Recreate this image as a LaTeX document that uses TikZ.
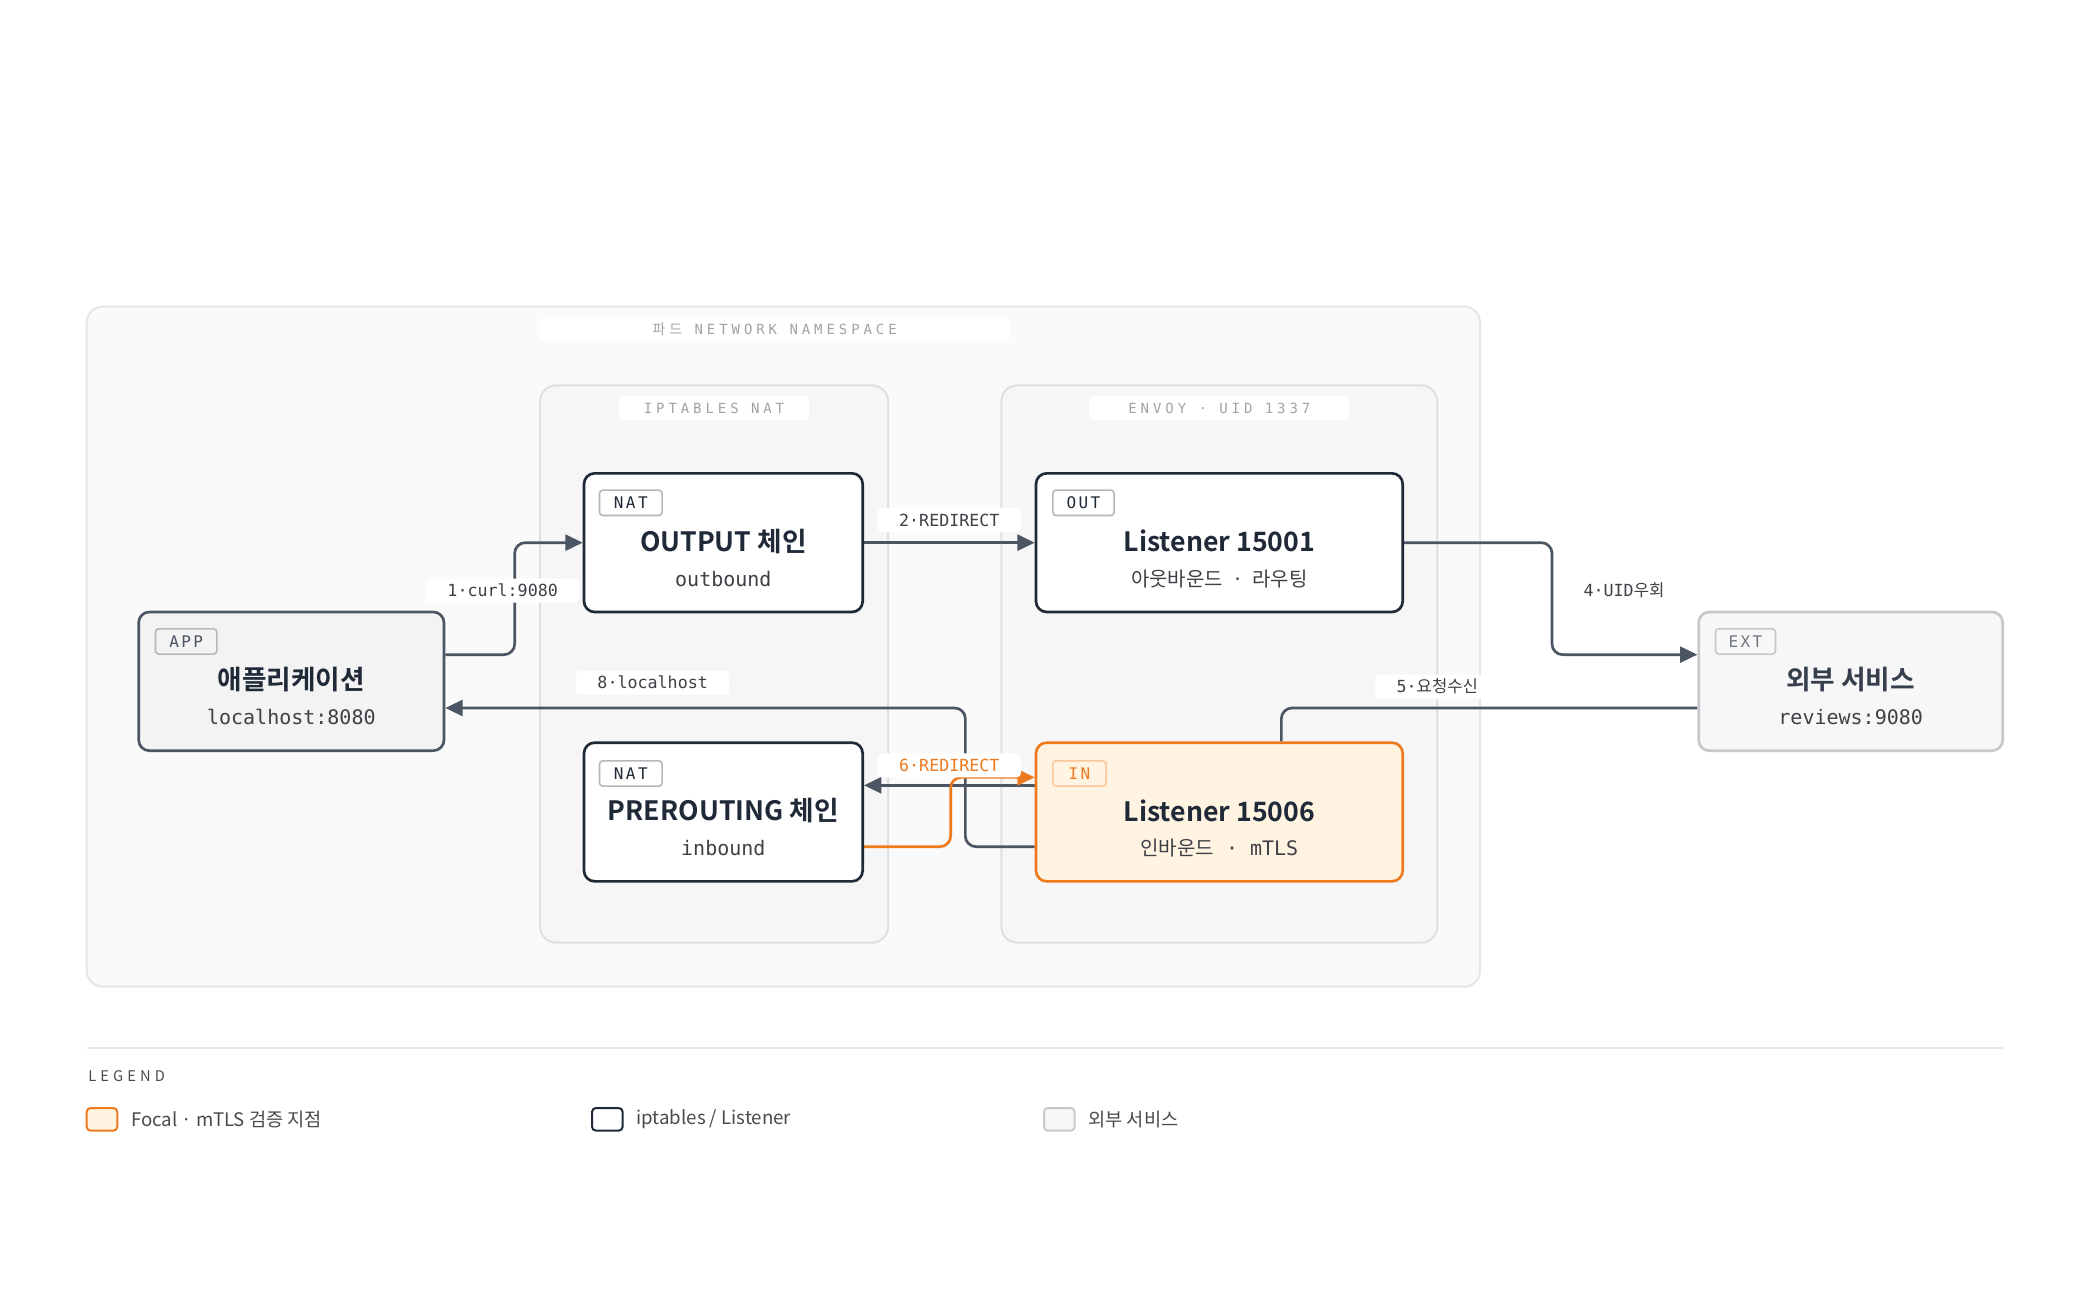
\documentclass[tikz,border=0pt]{standalone}
\usepackage{fontspec}
\setmainfont{Noto Sans CJK KR}[BoldFont={Noto Sans CJK KR Bold}]
\setmonofont{DejaVu Sans Mono}
\newfontfamily\kr{Noto Sans CJK KR}[BoldFont={Noto Sans CJK KR Bold}]
\newfontfamily\spmono{DejaVu Sans Mono}[LetterSpace=28]
\newfontfamily\tgmono{DejaVu Sans Mono}[LetterSpace=15]
\newfontfamily\spkr{Noto Sans CJK KR}[LetterSpace=28]
\usetikzlibrary{arrows.meta,calc}
\definecolor{ink}{HTML}{1F2937}
\definecolor{edgec}{HTML}{4B5563}
\definecolor{orng}{HTML}{EE7A1E}
\definecolor{orngtag}{HTML}{F8C79A}
\definecolor{cream}{HTML}{FFF4E2}
\definecolor{nsbg}{HTML}{FAFAFA}
\definecolor{nsline}{HTML}{E6E6E6}
\definecolor{grpbg}{HTML}{F6F6F6}
\definecolor{grpline}{HTML}{E0E0E0}
\definecolor{grptxt}{HTML}{A3A3A3}
\definecolor{subc}{HTML}{3F3F46}
\definecolor{tagline}{HTML}{B4B8BE}
\definecolor{appbg}{HTML}{F3F3F3}
\definecolor{extline}{HTML}{C5C8CC}
\definecolor{extbg}{HTML}{F7F7F7}
\definecolor{legtxt}{HTML}{4A4A4A}
\pgfdeclarelayer{bg}
\pgfdeclarelayer{edges}
\pgfsetlayers{bg,edges,main}
\begin{document}
\begin{tikzpicture}[x=1pt,y=-1pt,
  box/.style={draw=ink, line width=2pt, fill=white, rounded corners=8pt,
    minimum width=209pt, minimum height=104pt, inner sep=0pt},
  wide/.style={minimum width=275pt},
  appbox/.style={box, draw=edgec, fill=appbg, minimum width=229pt},
  extbox/.style={box, draw=extline, fill=extbg, minimum width=228pt},
  focal/.style={box, wide, draw=orng, fill=cream},
  ttl/.style={font=\fontsize{20}{24}\selectfont\bfseries, text=ink},
  subt/.style={font=\fontsize{15}{18}\selectfont\ttfamily, text=subc},
  tagbox/.style={draw=tagline, line width=1.2pt, rounded corners=2.5pt,
    minimum height=19pt, inner xsep=6pt, inner ysep=0pt,
    font=\fontsize{12}{13}\selectfont\tgmono, text=ink, anchor=north west},
  elabel/.style={fill=white, rounded corners=3pt, inner xsep=16pt, inner ysep=0pt,
    minimum height=18pt, font=\fontsize{12.5}{14}\selectfont\ttfamily, text=subc},
  glabel/.style={fill=white, rounded corners=3pt, inner sep=0pt, minimum height=18pt,
    font=\fontsize{10.5}{12}\selectfont\spmono, text=grptxt},
  flow/.style={draw=edgec, line width=2pt, rounded corners=8pt,
    -{Triangle[length=13pt,width=12pt]}},
  plain/.style={draw=edgec, line width=2pt, rounded corners=8pt},
  oflow/.style={flow, draw=orng},
  swatch/.style={line width=1.5pt, rounded corners=3pt, minimum width=23pt,
    minimum height=17pt, inner sep=0pt},
  legtext/.style={anchor=west, font=\fontsize{14}{16}\selectfont, text=legtxt}
]
\useasboundingbox (0,0) rectangle (1560,976);

% backgrounds
\begin{pgfonlayer}{bg}
\fill[white] (0,0) rectangle (1560,976);
\draw[nsline, fill=nsbg, line width=1.5pt, rounded corners=12pt] (65,230) rectangle (1110,740);
\draw[grpline, fill=grpbg, line width=1.5pt, rounded corners=12pt] (405,289) rectangle (666,707);
\draw[grpline, fill=grpbg, line width=1.5pt, rounded corners=12pt] (751,289) rectangle (1078,707);
\end{pgfonlayer}
\node[glabel, minimum width=352pt] (nslabel) at (581,247) {{\spkr 파드} NETWORK NAMESPACE};
\node[glabel, minimum width=143pt] (iplabel) at (535.5,306) {IPTABLES NAT};
\node[glabel, minimum width=195pt] (envlabel) at (914.5,306) {ENVOY · UID 1337};

% main nodes
\node[box] (outchain) at (542.5,407) {};
\node[box, wide] (l15001) at (914.5,407) {};
\node[box] (pre) at (542.5,609) {};
\node[focal] (l15006) at (914.5,609) {};
\node[appbox] (app) at (218.5,511) {};
\node[extbox] (ext) at (1388,511) {};

% titles and subtitles
\node[ttl] (t1) at ([yshift=1pt]outchain.center) {OUTPUT 체인};
\node[subt] (s1) at ([yshift=-27pt]outchain.center) {outbound};
\node[ttl] (t2) at ([yshift=1pt]l15001.center) {Listener 15001};
\node[subt, font=\fontsize{15}{18}\selectfont\kr] (s2) at ([yshift=-27pt]l15001.center) {아웃바운드 \ · \ 라우팅};
\node[ttl] (t3) at ([yshift=1pt]pre.center) {PREROUTING 체인};
\node[subt] (s3) at ([yshift=-27pt]pre.center) {inbound};
\node[ttl] (t4) at ([yshift=1pt]l15006.center) {Listener 15006};
\node[subt] (s4) at ([yshift=-27pt]l15006.center) {{\kr 인바운드} · mTLS};
\node[ttl] (t5) at ([yshift=1pt]app.center) {애플리케이션};
\node[subt] (s5) at ([yshift=-27pt]app.center) {localhost:8080};
\node[ttl, text=ink!90] (t6) at ([yshift=1pt]ext.center) {외부 서비스};
\node[subt] (s6) at ([yshift=-27pt]ext.center) {reviews:9080};

% tags
\node[tagbox, minimum width=47pt] (g1) at ([xshift=12pt,yshift=-13pt]outchain.north west) {NAT};
\node[tagbox, minimum width=46pt] (g2) at ([xshift=13pt,yshift=-13pt]l15001.north west) {OUT};
\node[tagbox, minimum width=47pt] (g3) at ([xshift=12pt,yshift=-14pt]pre.north west) {NAT};
\node[tagbox, minimum width=40pt, draw=orngtag, text=orng] (g4) at ([xshift=13pt,yshift=-14pt]l15006.north west) {IN};
\node[tagbox, minimum width=46pt, text=edgec] (g5) at ([xshift=13pt,yshift=-13pt]app.north west) {APP};
\node[tagbox, minimum width=45pt, draw=extline, text=edgec!80] (g6) at ([xshift=13pt,yshift=-13pt]ext.north west) {EXT};

% connectors
\begin{pgfonlayer}{edges}
\draw[flow] ([yshift=20pt]app.east) -- ++(52,0) |- (outchain.west);
\draw[flow] (outchain.east) -- (l15001.west);
\draw[flow] (l15001.east) -- ++(111,0) |- ([yshift=20pt]ext.west);
\draw[plain] ([yshift=-20pt]ext.west) -| ([xshift=46.5pt]l15006.north);
\draw[flow] ([yshift=20pt]l15006.west) -- ([yshift=20pt]pre.east);
\draw[flow] ([yshift=-26pt]l15006.west) -- ++(-52,0) |- ([yshift=-20pt]app.east);
\draw[oflow] ([yshift=-26pt]pre.east) -- ++(65,0) |- ([yshift=26pt]l15006.west);
\end{pgfonlayer}

% connector labels
\node[elabel] (e1) at (377,443) {1·curl:9080};
\node[elabel] (e2) at (712,390) {2·REDIRECT};
\node[elabel] (e4) at (1218,443) {4·UID{\kr 우회}};
\node[elabel] (e5) at (1078,515) {5·{\kr 요청수신}};
\node[elabel, text=orng] (e6) at (712,574) {6·REDIRECT};
\node[elabel] (e8) at (489.5,512) {8·localhost};

% legend
\draw[nsline, line width=1.5pt] (65,786) -- (1502,786);
\node[anchor=west, font=\fontsize{11}{13}\selectfont\spkr, text=legtxt, inner sep=0pt] (legend) at (66,807) {LEGEND};
\node[swatch, draw=orng, fill=cream] (sw1) at (76.5,839.5) {};
\node[legtext] (lt1) at ([xshift=6pt]sw1.east) {Focal · mTLS 검증 지점};
\node[swatch, draw=ink, fill=white] (sw2) at (455.5,839.5) {};
\node[legtext] (lt2) at ([xshift=6pt]sw2.east) {iptables / Listener};
\node[swatch, draw=extline, fill=extbg] (sw3) at (794.5,839.5) {};
\node[legtext] (lt3) at ([xshift=6pt]sw3.east) {외부 서비스};
\end{tikzpicture}
\end{document}
